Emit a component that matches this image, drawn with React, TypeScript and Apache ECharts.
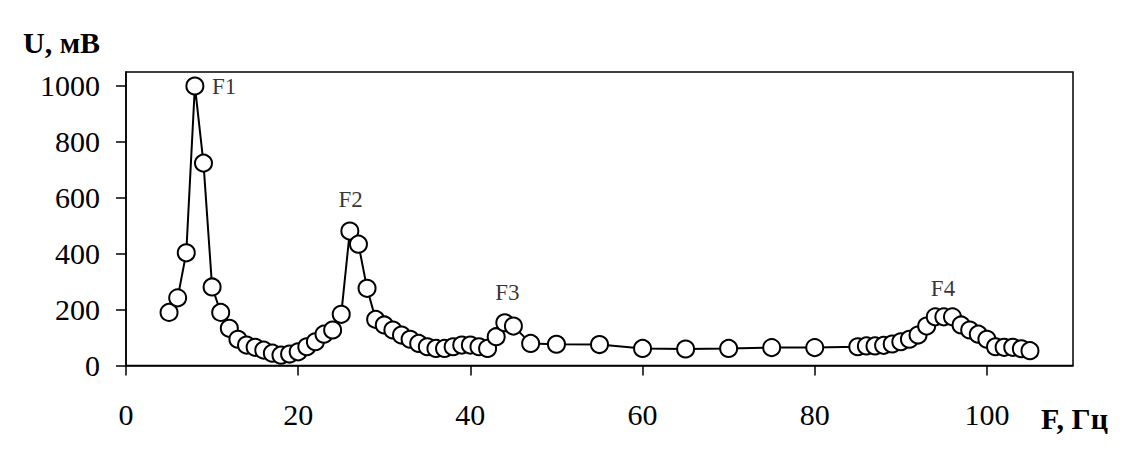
import React, { useEffect, useRef } from "react";
import * as echarts from "echarts";

const frequencies = [
  5, 6, 7, 8, 9, 10, 11, 12, 13, 14, 15, 16, 17, 18, 19, 20, 21, 22, 23, 24,
  25, 26, 27, 28, 29, 30, 31, 32, 33, 34, 35, 36, 37, 38, 39, 40, 41, 42, 43,
  44, 45, 47, 50, 55, 60, 65, 70, 75, 80, 85, 86, 87, 88, 89, 90, 91, 92, 93,
  94, 95, 96, 97, 98, 99, 100, 101, 102, 103, 104, 105,
];
const voltages = [
  190, 242, 403, 1000, 724, 281, 190, 133, 94, 73, 65, 55, 44, 37, 41, 49, 67,
  85, 112, 127, 183, 481, 434, 276, 165, 145, 127, 109, 94, 79, 67, 61, 61, 67,
  73, 73, 67, 61, 103, 153, 141, 79, 76, 75, 61, 59, 61, 64, 64, 67, 70, 70,
  72, 77, 85, 94, 109, 141, 174, 174, 174, 145, 127, 112, 94, 67, 65, 65, 60,
  53,
];
const peakNames = ["F1", "F2", "F3", "F4"];
const peakLabelX = [11.4, 26.1, 44.3, 94.9];
const peakLabelY = [998, 593, 261, 277];
const xTicks = [0, 20, 40, 60, 80, 100];
const yTicks = [0, 200, 400, 600, 800, 1000];

const FONT = "'Liberation Serif', 'Times New Roman', serif";

export default function App() {
  const ref = useRef<HTMLDivElement>(null);
  useEffect(() => {
    document.body.style.margin = "0";
    if (!ref.current) return;
    const chart = echarts.init(ref.current, undefined, { renderer: "svg" });
    const axisCommon = {
      axisLine: { show: true, lineStyle: { color: "#000", width: 1.5 } },
      axisTick: { show: true, inside: false, length: 10, lineStyle: { color: "#000", width: 1.5 } },
      splitLine: { show: false },
    };
    chart.setOption({
      animation: false,
      backgroundColor: "#fff",
      grid: {
        left: 126,
        right: 57,
        top: 72,
        bottom: 109.5,
        show: true,
        borderColor: "#000",
        borderWidth: 1.5,
        backgroundColor: "transparent",
      },
      xAxis: {
        type: "value",
        min: 0,
        max: 110,
        interval: 20,
        ...axisCommon,
        axisTick: { ...axisCommon.axisTick, customValues: xTicks },
        axisLabel: {
          customValues: xTicks,
          formatter: (v: number) => String(v),
          margin: 34,
          color: "#000",
          fontSize: 30,
          fontFamily: FONT,
        },
      },
      yAxis: {
        type: "value",
        min: 0,
        max: 1050,
        interval: 200,
        ...axisCommon,
        axisTick: { ...axisCommon.axisTick, customValues: yTicks },
        axisLabel: {
          customValues: yTicks,
          formatter: (v: number) => String(v),
          margin: 26,
          color: "#000",
          fontSize: 30,
          fontFamily: FONT,
        },
      },
      graphic: [
        {
          type: "text",
          left: 23,
          top: 27,
          style: {
            text: "U, мВ",
            fill: "#000",
            font: `bold 30px ${FONT}`,
          },
        },
        {
          type: "text",
          left: 1041,
          top: 403,
          style: {
            text: "F, Гц",
            fill: "#000",
            font: `bold 30px ${FONT}`,
          },
        },
      ],
      series: [
        {
          type: "line",
          data: frequencies.map((f, i) => [f, voltages[i]]),
          symbol: "circle",
          symbolSize: 17,
          showAllSymbol: true,
          lineStyle: { color: "#000", width: 2 },
          itemStyle: { color: "#fff", borderColor: "#000", borderWidth: 2 },
          z: 3,
        },
        {
          type: "scatter",
          data: peakNames.map((n, i) => ({ name: n, value: [peakLabelX[i], peakLabelY[i]] })),
          symbolSize: 0,
          silent: true,
          label: {
            show: true,
            position: "inside",
            formatter: "{b}",
            color: "#000",
            fontSize: 23,
            fontFamily: FONT,
          },
          z: 4,
        },
      ],
    });
    return () => chart.dispose();
  }, []);
  return <div ref={ref} style={{ width: 1130, height: 475 }} />;
}
